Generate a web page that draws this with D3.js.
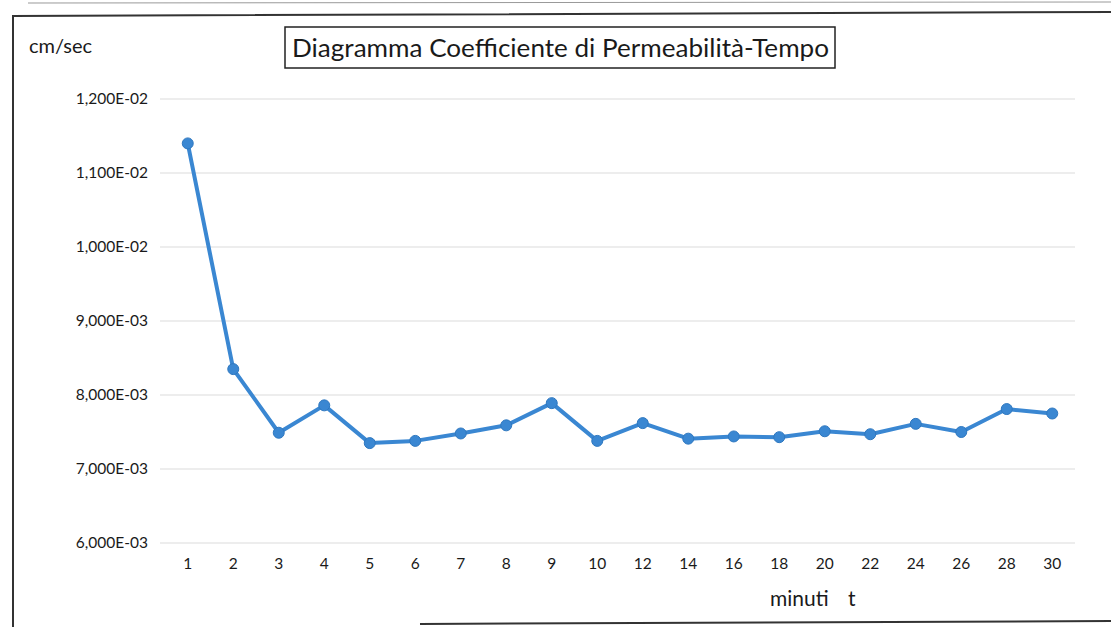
<!DOCTYPE html>
<html>
<head>
<meta charset="utf-8">
<title>Diagramma Coefficiente di Permeabilità-Tempo</title>
<script src="https://cdn.jsdelivr.net/npm/d3@7"></script>
<style>
  body { margin: 0; background: #fff; }
  text { font-family: Lato, "Open Sans", "DejaVu Sans", sans-serif; fill: #1a1a1a; }
</style>
</head>
<body>
<svg width="1111" height="627"></svg>
<script>
// dati
var minuti = ["1","2","3","4","5","6","7","8","9","10","12","14","16","18","20","22","24","26","28","30"];
var permeab = [0.01140, 0.00835, 0.00749, 0.00786, 0.00735, 0.00738, 0.00748, 0.00759, 0.00789, 0.00738,
               0.00762, 0.00741, 0.00744, 0.00743, 0.00751, 0.00747, 0.00761, 0.00750, 0.00781, 0.00775];
var yTicks = [0.006, 0.007, 0.008, 0.009, 0.010, 0.011, 0.012];
var yTickLabels = ["6,000E-03","7,000E-03","8,000E-03","9,000E-03","1,000E-02","1,100E-02","1,200E-02"];

var svg = d3.select("svg");
var marge = {left:165, right:1075, top:99, bottom:543};

// cornice esterna (scansione)
svg.append("line").attr("x1",28).attr("y1",3).attr("x2",1111).attr("y2",2)
  .style("stroke","#999").style("stroke-width",1);
svg.append("path").attr("d","M13,627 L13,16 L1111,12")
  .style("fill","none").style("stroke","#333").style("stroke-width",2);
svg.append("line").attr("x1",420).attr("y1",624).attr("x2",1111).attr("y2",621)
  .style("stroke","#333").style("stroke-width",2);

var x = d3.scaleBand().domain(minuti).range([marge.left, marge.right]);
var y = d3.scaleLinear().domain([0.006, 0.012]).range([marge.bottom, marge.top]);

// griglia
svg.append("g").selectAll("line")
  .data(yTicks).enter().append("line")
  .attr("x1", 160).attr("x2", marge.right)
  .attr("y1", function(d){ return y(d); })
  .attr("y2", function(d){ return y(d); })
  .style("stroke","#dcdcdc").style("stroke-width",1.2);

// etichette asse y
svg.append("g").selectAll("text")
  .data(yTicks).enter().append("text")
  .attr("x", 148)
  .attr("y", function(d){ return y(d) + 5; })
  .attr("text-anchor","end")
  .style("font-size","15.5px")
  .text(function(d,i){ return yTickLabels[i]; });

// etichette asse x
svg.append("g").selectAll("text")
  .data(minuti).enter().append("text")
  .attr("x", function(d){ return x(d) + x.bandwidth()/2; })
  .attr("y", 569)
  .attr("text-anchor","middle")
  .style("font-size","15.5px")
  .text(function(d){ return d; });

// linea
var line = d3.line()
  .x(function(d,i){ return x(minuti[i]) + x.bandwidth()/2; })
  .y(function(d){ return y(d); });

svg.append("path").datum(permeab)
  .attr("d", line)
  .style("fill","none").style("stroke","#3a87d2").style("stroke-width",4)
  .style("stroke-linejoin","round");

svg.append("g").selectAll("circle")
  .data(permeab).enter().append("circle")
  .attr("cx", function(d,i){ return x(minuti[i]) + x.bandwidth()/2; })
  .attr("cy", function(d){ return y(d); })
  .attr("r", 5.5)
  .style("fill","#3a87d2").style("stroke","#2f78c0").style("stroke-width",1);

// titolo
svg.append("rect").attr("x",285).attr("y",27).attr("width",550).attr("height",41)
  .style("fill","#fff").style("stroke","#222").style("stroke-width",1.5);
svg.append("text").attr("x",292).attr("y",57)
  .attr("textLength",537).attr("lengthAdjust","spacingAndGlyphs")
  .style("font-size","25px")
  .text("Diagramma Coefficiente di Permeabilità-Tempo");

svg.append("text").attr("x",29).attr("y",53).style("font-size","20px").text("cm/sec");
svg.append("text").attr("x",770).attr("y",606).style("font-size","21px").text("minuti");
svg.append("text").attr("x",848).attr("y",606).style("font-size","21px").text("t");
</script>
</body>
</html>
